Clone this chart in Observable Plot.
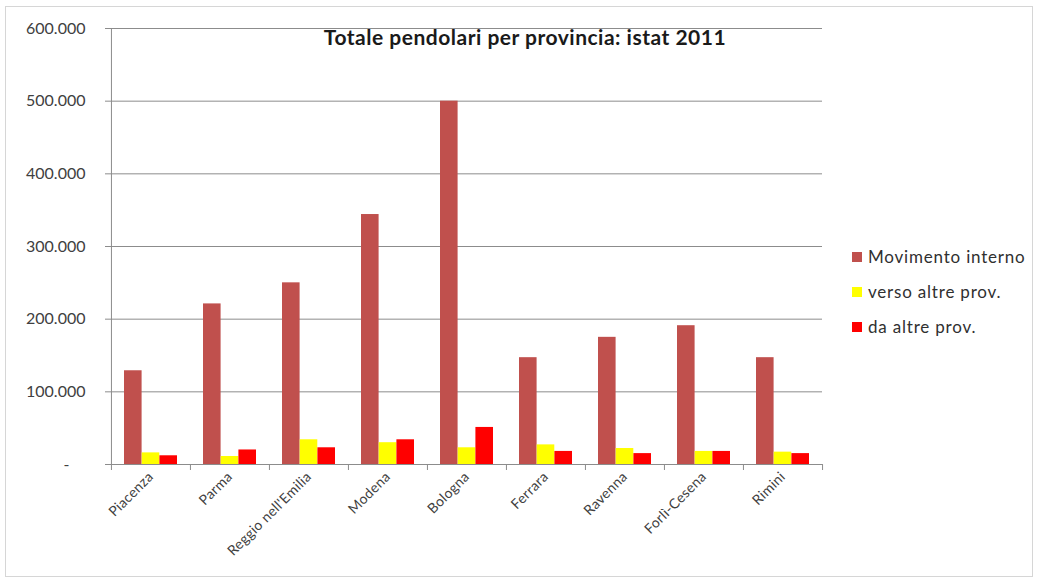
<!DOCTYPE html>
<html><head><meta charset="utf-8">
<script src="https://cdn.jsdelivr.net/npm/d3@7"></script>
<script src="https://cdn.jsdelivr.net/npm/@observablehq/plot@0.6"></script>
<style>
body{margin:0;background:#fff;}
#wrap{position:relative;width:1040px;height:579px;font-family:Lato, "Open Sans", sans-serif;overflow:hidden}
#frame{position:absolute;left:5px;top:6px;width:1028px;height:571px;border:1px solid #d6d6d6;box-sizing:border-box;pointer-events:none}
#title{position:absolute;top:25px;left:0;width:1050px;text-align:center;font-weight:bold;font-size:21px;letter-spacing:0.5px;color:#1a1a1a;line-height:24px}
#legend{position:absolute;left:852px;top:239px;font-size:17px;letter-spacing:0.8px;color:#303030}
.li{display:flex;align-items:center;height:35px;line-height:22px}
.sw{width:10px;height:10px;margin-right:6px;display:inline-block}
#chart{position:absolute;left:0;top:0}
</style>
</head><body>
<div id="wrap"><div id="chart"></div><div id="title"></div><div id="legend"></div><div id="frame"></div></div>
<script>
const title = "Totale pendolari per provincia: istat 2011";
const provinces = ["Piacenza","Parma","Reggio nell'Emilia","Modena","Bologna","Ferrara","Ravenna","Forlì-Cesena","Rimini"];
const seriesNames = ["Movimento interno","verso altre prov.","da altre prov."];
const seriesColors = ["#c0504d","#ffff00","#ff0000"];
const movimentoInterno = [129000,221000,250000,344000,500000,147000,175000,191000,147000];
const versoAltreProv = [16000,11000,34000,30000,23000,27000,22000,18000,17000];
const daAltreProv = [12000,20000,23000,34000,51000,18000,15000,18000,15000];
const yTicks = [0,100000,200000,300000,400000,500000,600000];

const seriesValues = [movimentoInterno, versoAltreProv, daAltreProv];
const table = [];
seriesNames.forEach((s,i)=>provinces.forEach((p,j)=>table.push({serie:s, provincia:p, valore:seriesValues[i][j]})));

const W=1040,H=579,mL=110,mR=218,mT=28,mB=115;
const plotH = H-mT-mB;
const bw=(W-mL-mR)/provinces.length;
const barW=17.7, groupOff=(bw-3*barW)/2;
const it = d3.formatLocale({decimal:",",thousands:".",grouping:[3],currency:["€",""]});
const fmt = d => d===0 ? "-\u2002\u2002" : it.format(",")(d);
const grid = "#8c8c8c";

const chart = Plot.plot({
  width:W,height:H,marginLeft:mL,marginRight:mR,marginTop:mT,marginBottom:mB,
  style:{fontFamily:"Lato, sans-serif",fontSize:"16px",color:"#404040",background:"transparent"},
  x:{domain:provinces,paddingInner:0,paddingOuter:0,label:null},
  y:{domain:[0,600000],label:null},
  marks:[
    Plot.ruleY(yTicks,{stroke:grid,strokeWidth:1}),
    Plot.ruleX([provinces[0]],{x:d=>d,dx:-bw/2,stroke:grid}),
    Plot.ruleX(provinces,{x:d=>d,dx:-bw/2,insetTop:plotH,insetBottom:-6,stroke:grid}),
    Plot.ruleX([provinces[provinces.length-1]],{x:d=>d,dx:bw/2,insetTop:plotH,insetBottom:-6,stroke:grid}),
    ...seriesNames.map((s,i)=>Plot.barY(table.filter(d=>d.serie===s),{
      x:"provincia",y:"valore",fill:seriesColors[i],
      insetLeft:groupOff+i*barW, insetRight:bw-groupOff-(i+1)*barW
    })),
    Plot.axisY({ticks:yTicks,tickFormat:fmt,tickSize:5,tickPadding:20,stroke:grid,fill:"#404040",fontSize:16}),
    Plot.axisX({tickSize:0,tickRotate:-45,tickPadding:10,fill:"#404040",fontSize:14})
  ]
});
document.getElementById("chart").appendChild(chart);
chart.querySelectorAll("g[aria-label='x-axis tick label'] text").forEach(t=>t.style.letterSpacing="0.3px");
document.getElementById("title").textContent = title;
const lg = document.getElementById("legend");
seriesNames.forEach((s,i)=>{
  const row=document.createElement("div");row.className="li";
  const sw=document.createElement("span");sw.className="sw";sw.style.background=seriesColors[i];
  const t=document.createElement("span");t.textContent=s;
  row.appendChild(sw);row.appendChild(t);lg.appendChild(row);
});
</script>
</body></html>
